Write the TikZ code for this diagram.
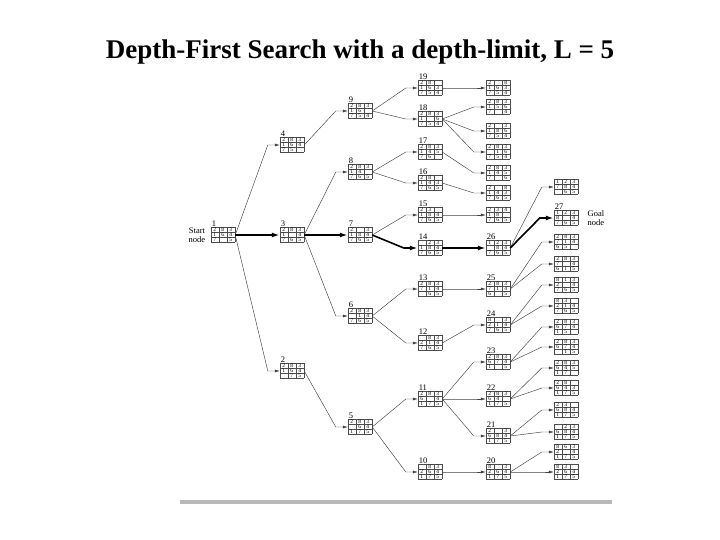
\documentclass[tikz,border=0pt]{standalone}
\usepackage{fontspec}
\setmainfont{Liberation Serif}
\usetikzlibrary{arrows.meta}

\tikzset{
  tile/.style={minimum width=24pt, minimum height=15pt, inner sep=0pt},
  cell/.style={draw=black!70, line width=0.4pt},
  digit/.style={font=\fontsize{5.5}{6}\selectfont, inner sep=0pt},
  numlabel/.style={anchor=south west, font=\fontsize{8.5}{9}\selectfont, inner sep=0.8pt},
  link/.style={draw=black!75, line width=0.45pt, -{Latex[length=5pt,width=3pt]}},
  boldlink/.style={draw=black, line width=1.6pt, -{Latex[length=8pt,width=5pt]}},
}

% name, x, y, label, tiles (0 = blank)
\newcommand\board[5]{%
  \node[tile] (#1) at (#2,#3) {};
  \node[numlabel] at (#1.north west) {#4};
  \begin{scope}[shift={(#1.north west)}]
    \foreach \c in {0,8,16,24} \draw[cell] (\c,0) -- (\c,15);
    \foreach \r in {0,5,10,15} \draw[cell] (0,\r) -- (24,\r);
    \foreach \t [count=\k from 0] in {#5} {
      \pgfmathtruncatemacro\cx{mod(\k,3)}
      \pgfmathtruncatemacro\cy{div(\k,3)}
      \ifnum\t>0 \node[digit] at (4+8*\cx,2.5+5*\cy) {\t};\fi
    }
  \end{scope}}

\begin{document}
\begin{tikzpicture}[x=1pt, y=-1pt]
  \useasboundingbox (0,0) rectangle (720,540);
  \node[font=\bfseries\fontsize{27}{30}\selectfont] (title) at (360,52) {Depth-First Search with a depth-limit, L = 5};

  % depth 0-2
  \board{n1}{223}{235}{1}{2,8,3,1,6,4,7,0,5}
  \board{n2}{292}{371}{2}{2,8,3,1,6,4,0,7,5}
  \board{n3}{292}{235}{3}{2,8,3,1,0,4,7,6,5}
  \board{n4}{292}{145}{4}{2,8,3,1,6,4,7,5,0}
  % depth 3
  \board{n5}{360}{427}{5}{2,8,3,0,6,4,1,7,5}
  \board{n6}{360}{316}{6}{2,8,3,0,1,4,7,6,5}
  \board{n7}{360}{235}{7}{2,0,3,1,8,4,7,6,5}
  \board{n8}{360}{172}{8}{2,8,3,1,4,0,7,6,5}
  \board{n9}{360}{111}{9}{2,8,3,1,6,0,7,5,4}
  % depth 4
  \board{n10}{430}{472}{10}{0,8,3,2,6,4,1,7,5}
  \board{n11}{430}{399}{11}{2,8,3,6,0,4,1,7,5}
  \board{n12}{430}{343}{12}{0,8,3,2,1,4,7,6,5}
  \board{n13}{430}{289}{13}{2,8,3,7,1,4,0,6,5}
  \board{n14}{430}{248}{14}{0,2,3,1,8,4,7,6,5}
  \board{n15}{430}{215}{15}{2,3,0,1,8,4,7,6,5}
  \board{n16}{430}{183}{16}{2,8,0,1,4,3,7,6,5}
  \board{n17}{430}{152}{17}{2,8,3,1,4,5,7,6,0}
  \board{n18}{430}{119}{18}{2,8,3,1,0,6,7,5,4}
  \board{n19}{430}{88}{19}{2,8,0,1,6,3,7,5,4}
  % depth 5
  \board{a19}{498}{88}{}{2,0,8,1,6,3,7,5,4}
  \board{a18}{498}{107}{}{2,8,3,1,5,6,7,0,4}
  \board{b18}{498}{131}{}{2,0,3,1,8,6,7,5,4}
  \board{c18}{498}{152}{}{2,8,3,0,1,6,7,5,4}
  \board{a17}{498}{173}{}{2,8,3,1,4,5,7,0,6}
  \board{a16}{498}{193}{}{2,0,8,1,4,3,7,6,5}
  \board{a15}{498}{215}{}{2,3,4,1,8,0,7,6,5}
  \board{n26}{498}{248}{26}{1,2,3,0,8,4,7,6,5}
  \board{n25}{498}{289}{25}{2,8,3,7,1,4,6,0,5}
  \board{n24}{498}{325}{24}{8,0,3,2,1,4,7,6,5}
  \board{n23}{498}{362}{23}{2,8,3,6,7,4,1,0,5}
  \board{n22}{498}{399}{22}{2,8,3,6,4,0,1,7,5}
  \board{n21}{498}{436}{21}{2,0,3,6,8,4,1,7,5}
  \board{n20}{498}{472}{20}{8,0,3,2,6,4,1,7,5}
  % depth 6
  \board{a26}{566}{187}{}{1,2,3,7,8,4,0,6,5}
  \board{n27}{566}{218}{27}{1,2,3,8,0,4,7,6,5}
  \board{a25}{566}{242}{}{2,8,3,7,1,4,6,5,0}
  \board{b25}{566}{264}{}{2,8,3,7,0,4,6,1,5}
  \board{a24}{566}{285}{}{8,1,3,2,0,4,7,6,5}
  \board{b24}{566}{306}{}{8,3,0,2,1,4,7,6,5}
  \board{a23}{566}{327}{}{2,8,3,6,7,4,1,5,0}
  \board{b23}{566}{347}{}{2,8,3,6,7,4,0,1,5}
  \board{a22}{566}{368}{}{2,8,3,6,4,5,1,7,0}
  \board{b22}{566}{388}{}{2,8,0,6,4,3,1,7,5}
  \board{a21}{566}{410}{}{2,3,0,6,8,4,1,7,5}
  \board{b21}{566}{432}{}{0,2,3,6,8,4,1,7,5}
  \board{a20}{566}{452}{}{8,6,3,2,0,4,1,7,5}
  \board{b20}{566}{472}{}{8,3,0,2,6,4,1,7,5}

  \node[align=center, anchor=east, font=\fontsize{8.5}{9.5}\selectfont] (start) at ([xshift=-2pt]n1.west) {Start\\node};
  \node[align=center, anchor=west, font=\fontsize{8.5}{9.5}\selectfont] (goal) at ([xshift=6pt]n27.east) {Goal\\node};

  \foreach \a/\b in {n1/n4, n1/n2, n4/n9, n3/n8, n3/n6, n2/n5,
      n9/n19, n9/n18, n8/n17, n8/n16, n7/n15, n6/n13, n6/n12, n5/n11, n5/n10,
      n19/a19, n18/a18, n18/b18, n18/c18, n17/a17, n16/a16, n15/a15,
      n13/n25, n12/n24, n11/n23, n11/n22, n11/n21, n10/n20,
      n26/a26, n25/a25, n25/b25, n24/a24, n24/b24, n23/a23, n23/b23,
      n22/a22, n22/b22, n21/a21, n21/b21, n20/a20, n20/b20}
    \draw[link] (\a.east) -- ([xshift=-12pt]\b.west) -- (\b.west);

  \foreach \a/\b in {n1/n3, n3/n7, n7/n14, n14/n26, n26/n27}
    \draw[boldlink] (\a.east) -- ([xshift=-14pt]\b.west) -- (\b.west);

  \draw[line width=4pt, gray!55] (180,502) -- (612,502);
\end{tikzpicture}
\end{document}
